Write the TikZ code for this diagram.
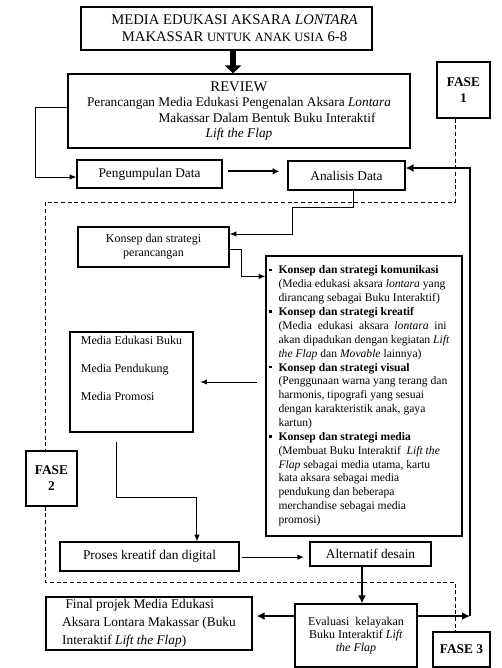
\documentclass[tikz,border=0pt]{standalone}
\usepackage{fontspec}
\setmainfont{Liberation Serif}
\usetikzlibrary{arrows.meta}

\newcommand\strbullet{\llap{\rule[2pt]{2pt}{2pt}\hspace{5pt}}}

\begin{document}
\begin{tikzpicture}[
        x=0.75pt, y=-0.75pt, % one unit = one pixel of the reference
        every node/.style={align=center, inner sep=0pt},
        box/.style={draw, line width=0.9pt, font=\fontsize{10}{12}\selectfont},
        fasebox/.style={draw, line width=0.9pt, font=\fontsize{10}{12}\selectfont\bfseries},
        link/.style={line width=0.75pt, -{Latex[length=5pt,width=4pt]}},
        boldlink/.style={line width=2pt, -{Latex[length=6pt,width=6pt]}},
        bigarrow/.style={line width=5pt, -{Triangle[length=6pt,width=12pt]}},
        dashline/.style={line width=0.6pt, dash pattern=on 3pt off 2pt}
    ]
    \useasboundingbox (0,0) rectangle (502,668);

    % Top
    \node[box, minimum width=218.25pt, minimum height=32.25pt, font=\fontsize{11}{13}\selectfont] (title) at (226.5,28.5)
        {\hspace*{12pt}MEDIA EDUKASI AKSARA \textit{LONTARA}\\\hspace*{12pt}MAKASSAR {\fontsize{9.5}{13}\selectfont UNTUK ANAK USIA} 6-8};
    \node[box, minimum width=256.5pt, minimum height=55.5pt, font=\fontsize{10}{11.5}\selectfont] (review) at (239,111)
        {{\fontsize{11}{13}\selectfont REVIEW}\\Perancangan Media Edukasi Pengenalan Aksara \textit{Lontara}\\\hspace*{42pt}Makassar Dalam Bentuk Buku Interaktif\\\textit{Lift the Flap}};
    \node[fasebox, minimum width=39.75pt, minimum height=42pt] (fase1) at (463.5,90) {FASE\\1};

    % Fase 1
    \node[box, minimum width=108.75pt, minimum height=21pt] (kumpul) at (149.5,174) {Pengumpulan Data};
    \node[box, minimum width=87.75pt, minimum height=21.75pt] (analisis) at (346.5,175.5) {Analisis Data};

    % Fase 2
    \node[box, minimum width=113.25pt, minimum height=30pt, font=\fontsize{9}{10.5}\selectfont] (konsep) at (153.5,247) {Konsep dan strategi\\perancangan};
    \node[box, minimum width=147pt, minimum height=210pt, align=left, font=\fontsize{8.7}{10.4}\selectfont] (strategi) at (364,396)
        {\strbullet\textbf{Konsep dan strategi komunikasi}\\
         (Media edukasi aksara \textit{lontara} yang\\
         dirancang sebagai Buku Interaktif)\\
         \strbullet\textbf{Konsep dan strategi kreatif}\\
         (Media \ edukasi \ aksara \ \textit{lontara} \ ini\\
         akan dipadukan dengan kegiatan \textit{Lift}\\
         \textit{the Flap} dan \textit{Movable} lainnya)\\
         \strbullet\textbf{Konsep dan strategi visual}\\
         (Penggunaan warna yang terang dan\\
         harmonis, tipografi yang sesuai\\
         dengan karakteristik anak, gaya\\
         kartun)\\
         \strbullet\textbf{Konsep dan strategi media}\\
         (Membuat Buku Interaktif \ \textit{Lift the}\\
         \textit{Flap} sebagai media utama, kartu\\
         kata aksara sebagai media\\
         pendukung dan beberapa\\
         merchandise sebagai media\\
         promosi)};
    \node[box, minimum width=92.25pt, minimum height=75pt, align=left, font=\fontsize{9}{21}\selectfont] (media) at (131.5,382)
        {Media Edukasi Buku\\Media Pendukung\\Media Promosi\\\mbox{}};
    \node[fasebox, minimum width=38.25pt, minimum height=41.25pt] (fase2) at (51.5,478.5) {FASE\\2};
    \node[box, minimum width=134.25pt, minimum height=21.75pt] (proses) at (149.5,556.5) {Proses kreatif dan digital};
    \node[box, minimum width=90.75pt, minimum height=18pt] (alternatif) at (370.5,554) {Alternatif desain};

    % Fase 3
    \node[box, minimum width=91.5pt, minimum height=47.25pt, font=\fontsize{9}{10}\selectfont] (evaluasi) at (356,635.5)
        {Evaluasi \ kelayakan\\Buku Interaktif \textit{Lift}\\\textit{the Flap}};
    \node[box, minimum width=154.5pt, minimum height=39.75pt, align=left, font=\fontsize{10}{13.5}\selectfont] (final) at (149,623.5)
        {\ Final projek Media Edukasi\\Aksara Lontara Makassar (Buku\\Interaktif \textit{Lift the Flap})};
    \node[fasebox, minimum width=42.75pt, minimum height=26.25pt] (fase3) at (461.5,649.5) {FASE 3};

    % Phase borders
    \coordinate (dtr) at (455,202);
    \coordinate (dtl) at (45.5,202);
    \coordinate (dbl) at (45.5,582);
    \coordinate (dbr) at (455,582);
    \draw[dashline] (dtr |- fase1.south) -- (dtr) -- (dtl) -- (dtl |- fase2.north);
    \draw[dashline] (dbl |- fase2.south) -- (dbl) -- (dbr) -- (dbr |- fase3.north);

    % Connectors
    \coordinate (mid) at (233,0);
    \coordinate (rgt) at (470,0);
    \draw[bigarrow] (title.south -| mid) -- (review.north -| mid);
    \draw[link] ([yshift=3pt]review.west) -- ++(-32,0) |- ([yshift=-2.25pt]kumpul.west);
    \draw[line width=1.5pt, -{Latex[length=5pt,width=5pt]}, shorten <=4pt, shorten >=6pt] ([yshift=2pt]kumpul.east) -- ([yshift=2pt]kumpul.east -| analisis.west);
    \draw[link] ([xshift=5pt]analisis.south) -- ++(0,17) -- ++(-61,0) |- ([yshift=9.75pt]konsep.east);
    \draw[link] ([yshift=-1.5pt]konsep.east) -- ++(12,0) |- ([yshift=-15.75pt]strategi.north west);
    \draw[link, shorten <=6pt, shorten >=5pt] (strategi.west |- media.east) -- (media.east);
    \draw[link, shorten <=6.75pt] ([xshift=-11.6pt]media.south) -- ++(0,65) -| ([xshift=35.6pt]proses.north);
    \draw[link, shorten <=2pt, shorten >=4pt] ([yshift=-0.5pt]proses.east) -- ([yshift=-0.5pt]proses.east -| alternatif.west);
    \draw[boldlink] ([xshift=-6.4pt]alternatif.south) -- ([xshift=-6.4pt]alternatif.south |- evaluasi.north);
    \draw[boldlink, shorten >=3pt] ([yshift=14.6pt]evaluasi.west) -- ([yshift=14.6pt]evaluasi.west -| final.east);
    \draw[boldlink] ([yshift=14.6pt]evaluasi.east) -- ([yshift=14.6pt]evaluasi.east -| rgt);
    \draw[boldlink] ([yshift=14.6pt]evaluasi.east -| rgt) -- ([yshift=5.6pt]analisis.east -| rgt) -- ([yshift=5.6pt]analisis.east);
\end{tikzpicture}
\end{document}
